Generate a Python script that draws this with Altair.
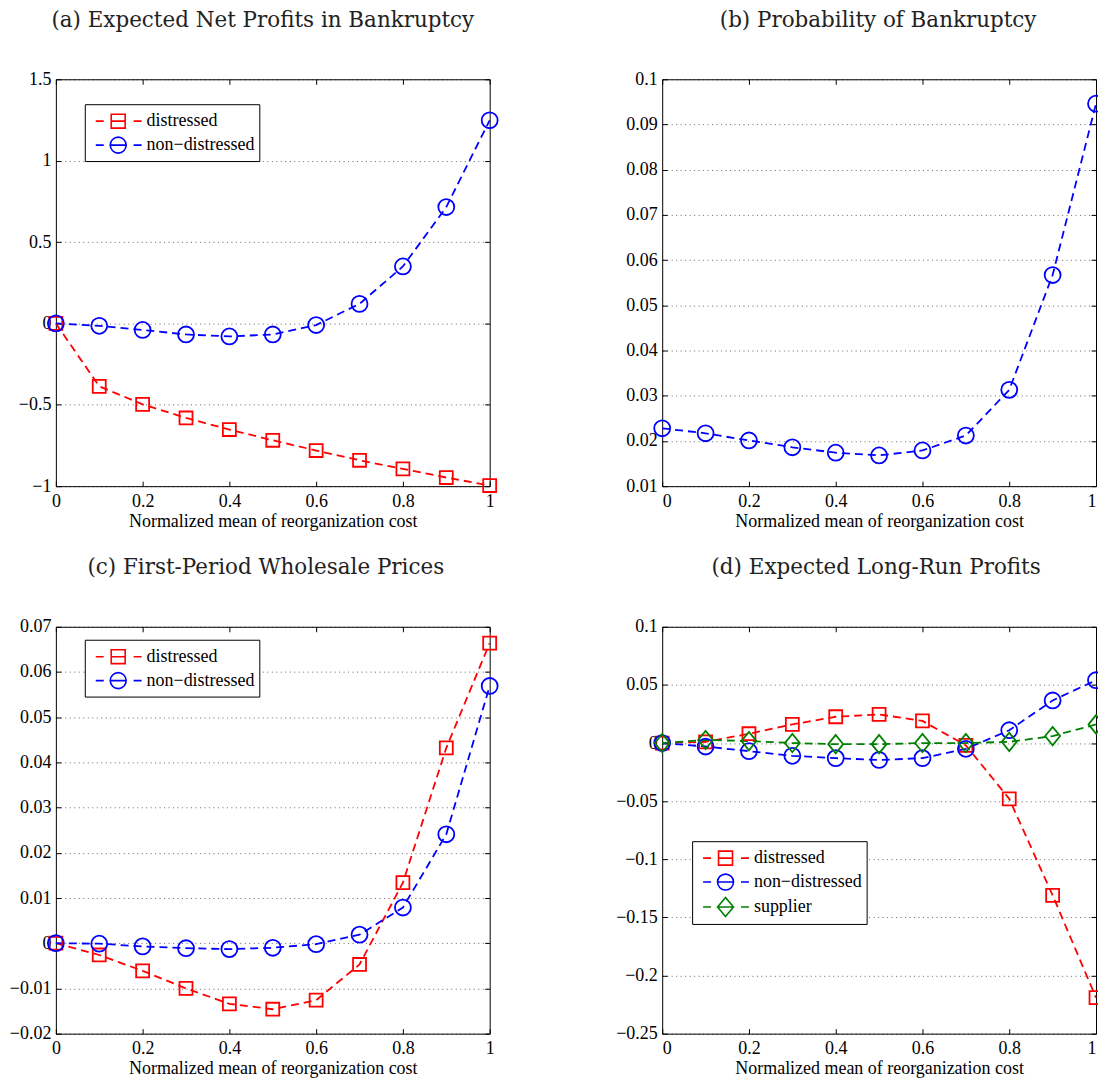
import altair as alt
import pandas as pd

# ---------------- data ----------------
x_vals = [0.0, 0.1, 0.2, 0.3, 0.4, 0.5, 0.6, 0.7, 0.8, 0.9, 1.0]
x_ticks = [0, 0.2, 0.4, 0.6, 0.8, 1]

a_distressed = [0, -0.387, -0.497, -0.581, -0.652, -0.718, -0.781, -0.841, -0.894, -0.947, -0.996]
a_nondistressed = [0, -0.015, -0.040, -0.068, -0.080, -0.068, -0.010, 0.120, 0.350, 0.715, 1.248]
a_ticks = [-1, -0.5, 0, 0.5, 1, 1.5]

b_nondistressed = [0.0228, 0.0217, 0.0201, 0.0186, 0.0174, 0.0168, 0.0179, 0.0212, 0.0313, 0.0567, 0.0946]
b_ticks = [0.01, 0.02, 0.03, 0.04, 0.05, 0.06, 0.07, 0.08, 0.09, 0.1]

c_distressed = [0, -0.0026, -0.0061, -0.0100, -0.0134, -0.0146, -0.0126, -0.0047, 0.0134, 0.0432, 0.0664]
c_nondistressed = [0, -0.0001, -0.0007, -0.0011, -0.0013, -0.0010, -0.0002, 0.0019, 0.0079, 0.0241, 0.0569]
c_ticks = [-0.02, -0.01, 0, 0.01, 0.02, 0.03, 0.04, 0.05, 0.06, 0.07]

d_distressed = [0, 0.001, 0.008, 0.016, 0.0226, 0.0246, 0.019, -0.002, -0.048, -0.131, -0.219]
d_nondistressed = [0, -0.003, -0.007, -0.011, -0.013, -0.0146, -0.013, -0.005, 0.011, 0.0366, 0.054]
d_supplier = [0, 0.0026, 0.0017, 0, -0.001, -0.001, 0, 0, 0.001, 0.006, 0.016]
d_ticks = [-0.25, -0.2, -0.15, -0.1, -0.05, 0, 0.05, 0.1]

titles = ["(a) Expected Net Profits in Bankruptcy", "(b) Probability of Bankruptcy",
          "(c) First-Period Wholesale Prices", "(d) Expected Long-Run Profits"]
x_title = "Normalized mean of reorganization cost"

DIS, NON, SUP = "distressed", "non\u2212distressed", "supplier"

# ---------------- styles ----------------
COLORS = {DIS: "#FF0000", NON: "#0000FF", SUP: "#008000"}
MARKERS = {
    DIS: "M-0.65,-0.65H0.65V0.65H-0.65Z",
    NON: "M-0.8,0A0.8,0.8 0 1,1 0.8,0A0.8,0.8 0 1,1 -0.8,0Z",
    SUP: "M-0.75,0L0,-0.92L0.75,0L0,0.92Z",
}
DASHES = "M-0.5,0H0.167M2.667,0H3.333"
LEG = {
    DIS: DASHES + "M0.792,-0.583H1.958V0.583H0.792ZM0.792,0H1.958",
    NON: DASHES + "M0.708,0A0.667,0.667 0 1,1 2.042,0A0.667,0.667 0 1,1 0.708,0ZM0.708,0H2.042",
    SUP: DASHES + "M0.708,0L1.375,-0.792L2.042,0L1.375,0.792ZM0.708,0H2.042",
}
SERIF = "Liberation Serif"
W, H = 435, 408


def panel(title, series, ydomain, yticks, legend_xy, dx, flush):
    rows = []
    for name, vals in series:
        for xv, yv in zip(x_vals, vals):
            rows.append({"x": xv, "y": yv, "series": name})
    df = pd.DataFrame(rows)
    names = [n for n, _ in series]
    cscale = alt.Scale(domain=names, range=[COLORS[n] for n in names])
    xs = alt.Scale(domain=[0, 1], nice=False, zero=False)
    ys = alt.Scale(domain=ydomain, nice=False, zero=False)

    def tick_axis(orient):
        return alt.Axis(orient=orient, values=(x_ticks if orient in ("top", "bottom") else yticks),
                        labels=False, domain=False, grid=False, ticks=True, tickSize=5,
                        offset=-5, title=None, tickColor="black", tickWidth=1)

    if legend_xy is not None:
        expr = ""
        for n in names[:-1]:
            expr += f"datum.value == '{n}' ? '{LEG[n]}' : "
        expr += f"'{LEG[names[-1]]}'"
        legend = alt.Legend(
            title=None, orient="none", legendX=legend_xy[0], legendY=legend_xy[1],
            symbolSize=576, symbolStrokeWidth=1.6, symbolType={"expr": expr},
            symbolFillColor="transparent", symbolOpacity=1,
            labelFont=SERIF, labelFontSize=18, labelColor="black", labelOffset=32,
            labelExpr="datum.label + '\u2003'",
            padding=4, rowPadding=0, strokeColor="black", fillColor="white",
        )
    else:
        legend = None

    base = alt.Chart(df)
    line = base.mark_line(strokeDash=[8, 5], strokeWidth=1.8).encode(
        x=alt.X("x:Q", scale=xs, axis=alt.Axis(orient="bottom", values=x_ticks, format="~g",
                                               title=x_title, grid=False, ticks=False, domain=False,
                                               labelFlush=flush, labelPadding=6, titlePadding=2)),
        y=alt.Y("y:Q", scale=ys, axis=alt.Axis(orient="left", values=yticks, format="~g",
                                               title=None, grid=True, ticks=False, domain=False,
                                               labelPadding=5)),
        color=alt.Color("series:N", scale=cscale, legend=None),
        order="x:Q",
    )
    pts = base.mark_point(filled=False, size=400, strokeWidth=1.8, opacity=1).encode(
        x=alt.X("x:Q", scale=xs, axis=tick_axis("bottom")),
        y=alt.Y("y:Q", scale=ys, axis=tick_axis("left")),
        color=alt.Color("series:N", scale=cscale, legend=None),
        shape=alt.Shape("series:N", scale=alt.Scale(domain=names, range=[MARKERS[n] for n in names]),
                        legend=None),
    )
    ghost = base.mark_point(filled=False, size=0, strokeWidth=1.6, opacity=1).encode(
        x=alt.X("x:Q", scale=xs, axis=tick_axis("top")),
        y=alt.Y("y:Q", scale=ys, axis=tick_axis("right")),
        color=alt.Color("series:N", scale=cscale, legend=legend),
    )
    return (
        alt.layer(line, pts, ghost)
        .resolve_axis(x="independent", y="independent")
        .resolve_legend(color="independent", shape="independent")
        .properties(width=W, height=H,
                    title=alt.Title(title, font="DejaVu Serif", fontSize=21.5, fontWeight="normal",
                                    color="#222", offset=39, anchor="middle", dx=dx))
    )


pa = panel(titles[0], [(DIS, a_distressed), (NON, a_nondistressed)], [-1, 1.5], a_ticks, (29, 25), -10, False)
pb = panel(titles[1], [(NON, b_nondistressed)], [0.01, 0.1], b_ticks, None, -1, True)
pc = panel(titles[2], [(DIS, c_distressed), (NON, c_nondistressed)], [-0.02, 0.07], c_ticks, (29, 13), -7, False)
pd_ = panel(titles[3], [(DIS, d_distressed), (NON, d_nondistressed), (SUP, d_supplier)], [-0.25, 0.1],
            d_ticks, (30, 215), -3, True)

chart = (
    alt.concat(pa, pb, pc, pd_, columns=2, spacing={"row": 26, "column": 112})
    .resolve_scale(color="independent", shape="independent")
    .resolve_legend(color="independent", shape="independent")
    .properties(padding={"left": 0, "top": 0, "right": -11, "bottom": 0}, background="white")
    .configure_view(stroke="black", strokeWidth=1)
    .configure_axis(labelFont=SERIF, labelFontSize=18, labelColor="black",
                    titleFont=SERIF, titleFontSize=18, titleFontWeight="normal", titleColor="black",
                    gridColor="#000", gridOpacity=0.6, gridDash=[1, 3.5], gridWidth=1)
)

chart.save("out.html", embed_options={"renderer": "svg", "actions": False})
